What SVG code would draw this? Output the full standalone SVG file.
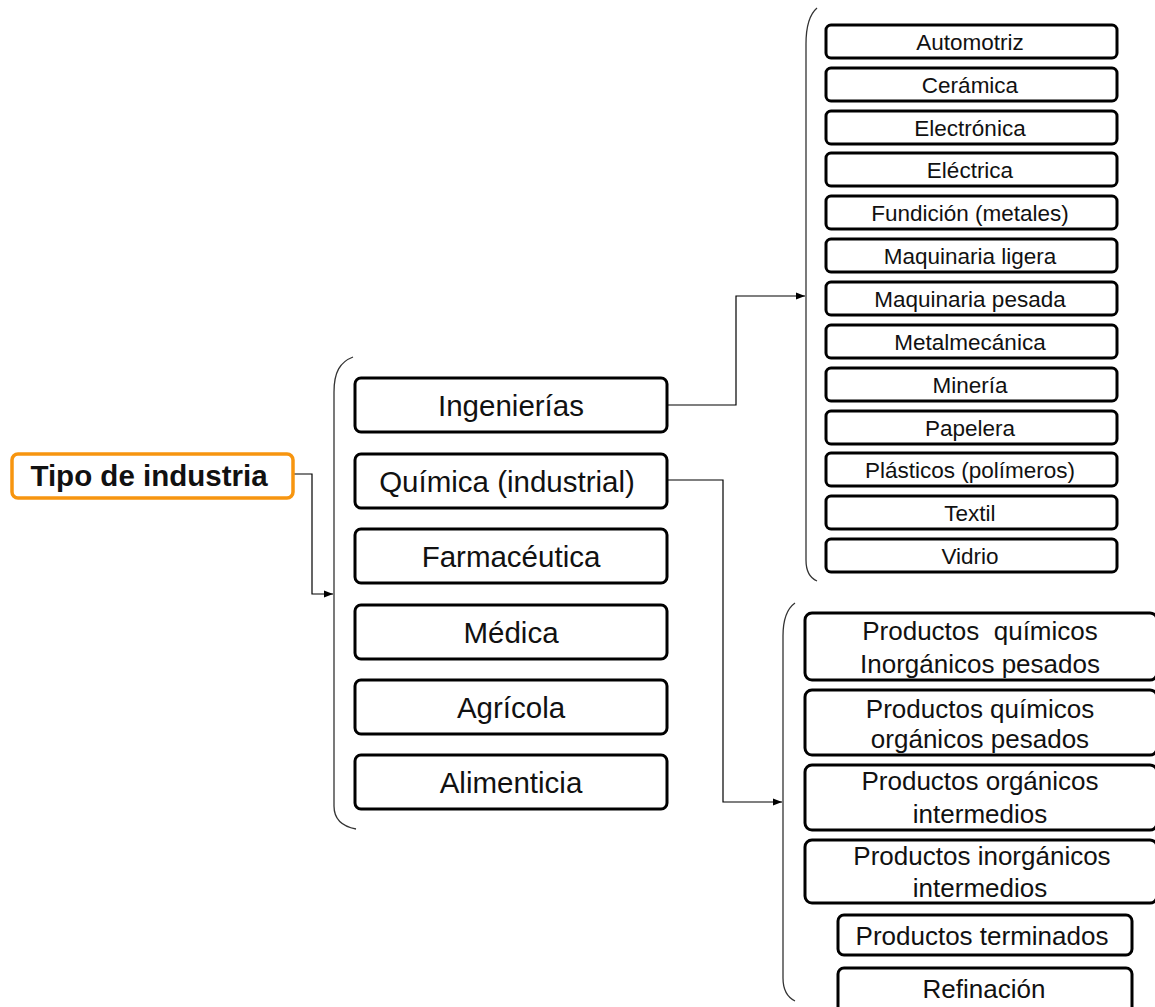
<svg xmlns="http://www.w3.org/2000/svg" width="1155" height="1007" viewBox="0 0 1155 1007">
  <defs>
    <marker id="arrow" viewBox="0 0 10 10" refX="10" refY="5" markerWidth="9" markerHeight="9" markerUnits="userSpaceOnUse" orient="auto">
      <path d="M0,1 L10,5 L0,9 Z" fill="#000"/>
    </marker>
    <style>
      .box { fill: #fff; stroke: #000; stroke-width: 3; }
      .root { fill: #fff; stroke: #f7950f; stroke-width: 3.5; }
      .brace { fill: none; stroke: #333; stroke-width: 1.3; }
      .link { fill: none; stroke: #000; stroke-width: 1.2; }
      text { font-family: "Liberation Sans", Arial, sans-serif; fill: #111; text-anchor: middle; }
      .t-root { font-size: 29.5px; font-weight: bold; }
      .t-mid { font-size: 29.5px; }
      .t-top { font-size: 22.5px; }
      .t-low { font-size: 26px; white-space: pre; }
    </style>
  </defs>

  <!-- brackets -->
  <g id="brackets">
    <path class="brace" d="M353,357 C340,362 334,372 334,392 L334,806 C334,818 340,826 356,829"/>
    <path class="brace" d="M817,8 C810,14 806,24 806,44 L806,560 C806,572 810,578 817,581"/>
    <path class="brace" d="M795,603 C788,608 783,618 783,636 L783,978 C783,990 787,997 795,1001"/>
  </g>

  <!-- connectors -->
  <g id="connectors">
    <path class="link" d="M293,474 H312 V594 H333" marker-end="url(#arrow)"/>
    <path class="link" d="M667,405 H736 V296 H805" marker-end="url(#arrow)"/>
    <path class="link" d="M667,480 H723 V802 H782" marker-end="url(#arrow)"/>
  </g>

  <!-- root -->
  <g id="tipo-de-industria">
    <rect class="root" x="12" y="454" width="281" height="44" rx="6"/>
    <text class="t-root" x="149" y="486">Tipo de industria</text>
  </g>

  <!-- first level -->
  <g id="ingenierias"><rect class="box" x="355" y="378" width="312" height="54" rx="6"/><text class="t-mid" x="511" y="416">Ingenierías</text></g>
  <g id="quimica"><rect class="box" x="355" y="454" width="312" height="54" rx="6"/><text class="t-mid" x="507" y="492">Química (industrial)</text></g>
  <g id="farmaceutica"><rect class="box" x="355" y="529" width="312" height="54" rx="6"/><text class="t-mid" x="511" y="567">Farmacéutica</text></g>
  <g id="medica"><rect class="box" x="355" y="605" width="312" height="54" rx="6"/><text class="t-mid" x="511" y="643">Médica</text></g>
  <g id="agricola"><rect class="box" x="355" y="680" width="312" height="54" rx="6"/><text class="t-mid" x="511" y="718">Agrícola</text></g>
  <g id="alimenticia"><rect class="box" x="355" y="755" width="312" height="54" rx="6"/><text class="t-mid" x="511" y="793">Alimenticia</text></g>

  <!-- engineering branches -->
  <g id="automotriz"><rect class="box" x="826" y="25" width="291" height="33" rx="5"/><text class="t-top" x="970" y="50">Automotriz</text></g>
  <g id="ceramica"><rect class="box" x="826" y="68" width="291" height="33" rx="5"/><text class="t-top" x="970" y="93">Cerámica</text></g>
  <g id="electronica"><rect class="box" x="826" y="111" width="291" height="33" rx="5"/><text class="t-top" x="970" y="136">Electrónica</text></g>
  <g id="electrica"><rect class="box" x="826" y="153" width="291" height="33" rx="5"/><text class="t-top" x="970" y="178">Eléctrica</text></g>
  <g id="fundicion"><rect class="box" x="826" y="196" width="291" height="33" rx="5"/><text class="t-top" x="970" y="221">Fundición (metales)</text></g>
  <g id="maquinaria-ligera"><rect class="box" x="826" y="239" width="291" height="33" rx="5"/><text class="t-top" x="970" y="264">Maquinaria ligera</text></g>
  <g id="maquinaria-pesada"><rect class="box" x="826" y="282" width="291" height="33" rx="5"/><text class="t-top" x="970" y="307">Maquinaria pesada</text></g>
  <g id="metalmecanica"><rect class="box" x="826" y="325" width="291" height="33" rx="5"/><text class="t-top" x="970" y="350">Metalmecánica</text></g>
  <g id="mineria"><rect class="box" x="826" y="368" width="291" height="33" rx="5"/><text class="t-top" x="970" y="393">Minería</text></g>
  <g id="papelera"><rect class="box" x="826" y="411" width="291" height="33" rx="5"/><text class="t-top" x="970" y="436">Papelera</text></g>
  <g id="plasticos"><rect class="box" x="826" y="453" width="291" height="33" rx="5"/><text class="t-top" x="970" y="478">Plásticos (polímeros)</text></g>
  <g id="textil"><rect class="box" x="826" y="496" width="291" height="33" rx="5"/><text class="t-top" x="970" y="521">Textil</text></g>
  <g id="vidrio"><rect class="box" x="826" y="539" width="291" height="33" rx="5"/><text class="t-top" x="970" y="564">Vidrio</text></g>

  <!-- chemical branches -->
  <g id="quimicos-inorganicos-pesados"><rect class="box" x="805" y="613" width="352" height="67" rx="7"/><text class="t-low" x="980" y="640">Productos  químicos</text><text class="t-low" x="980" y="673">Inorgánicos pesados</text></g>
  <g id="quimicos-organicos-pesados"><rect class="box" x="805" y="690" width="352" height="65" rx="7"/><text class="t-low" x="980" y="718">Productos químicos</text><text class="t-low" x="980" y="748">orgánicos pesados</text></g>
  <g id="organicos-intermedios"><rect class="box" x="805" y="765" width="352" height="65" rx="7"/><text class="t-low" x="980" y="790">Productos orgánicos</text><text class="t-low" x="980" y="823">intermedios</text></g>
  <g id="inorganicos-intermedios"><rect class="box" x="805" y="840" width="352" height="63" rx="7"/><text class="t-low" x="982" y="865">Productos inorgánicos</text><text class="t-low" x="980" y="897">intermedios</text></g>
  <g id="terminados"><rect class="box" x="838" y="915" width="294" height="40" rx="6"/><text class="t-low" x="982" y="945">Productos terminados</text></g>
  <g id="refinacion"><rect class="box" x="838" y="968" width="294" height="50" rx="6"/><text class="t-low" x="984" y="998">Refinación</text></g>
</svg>
